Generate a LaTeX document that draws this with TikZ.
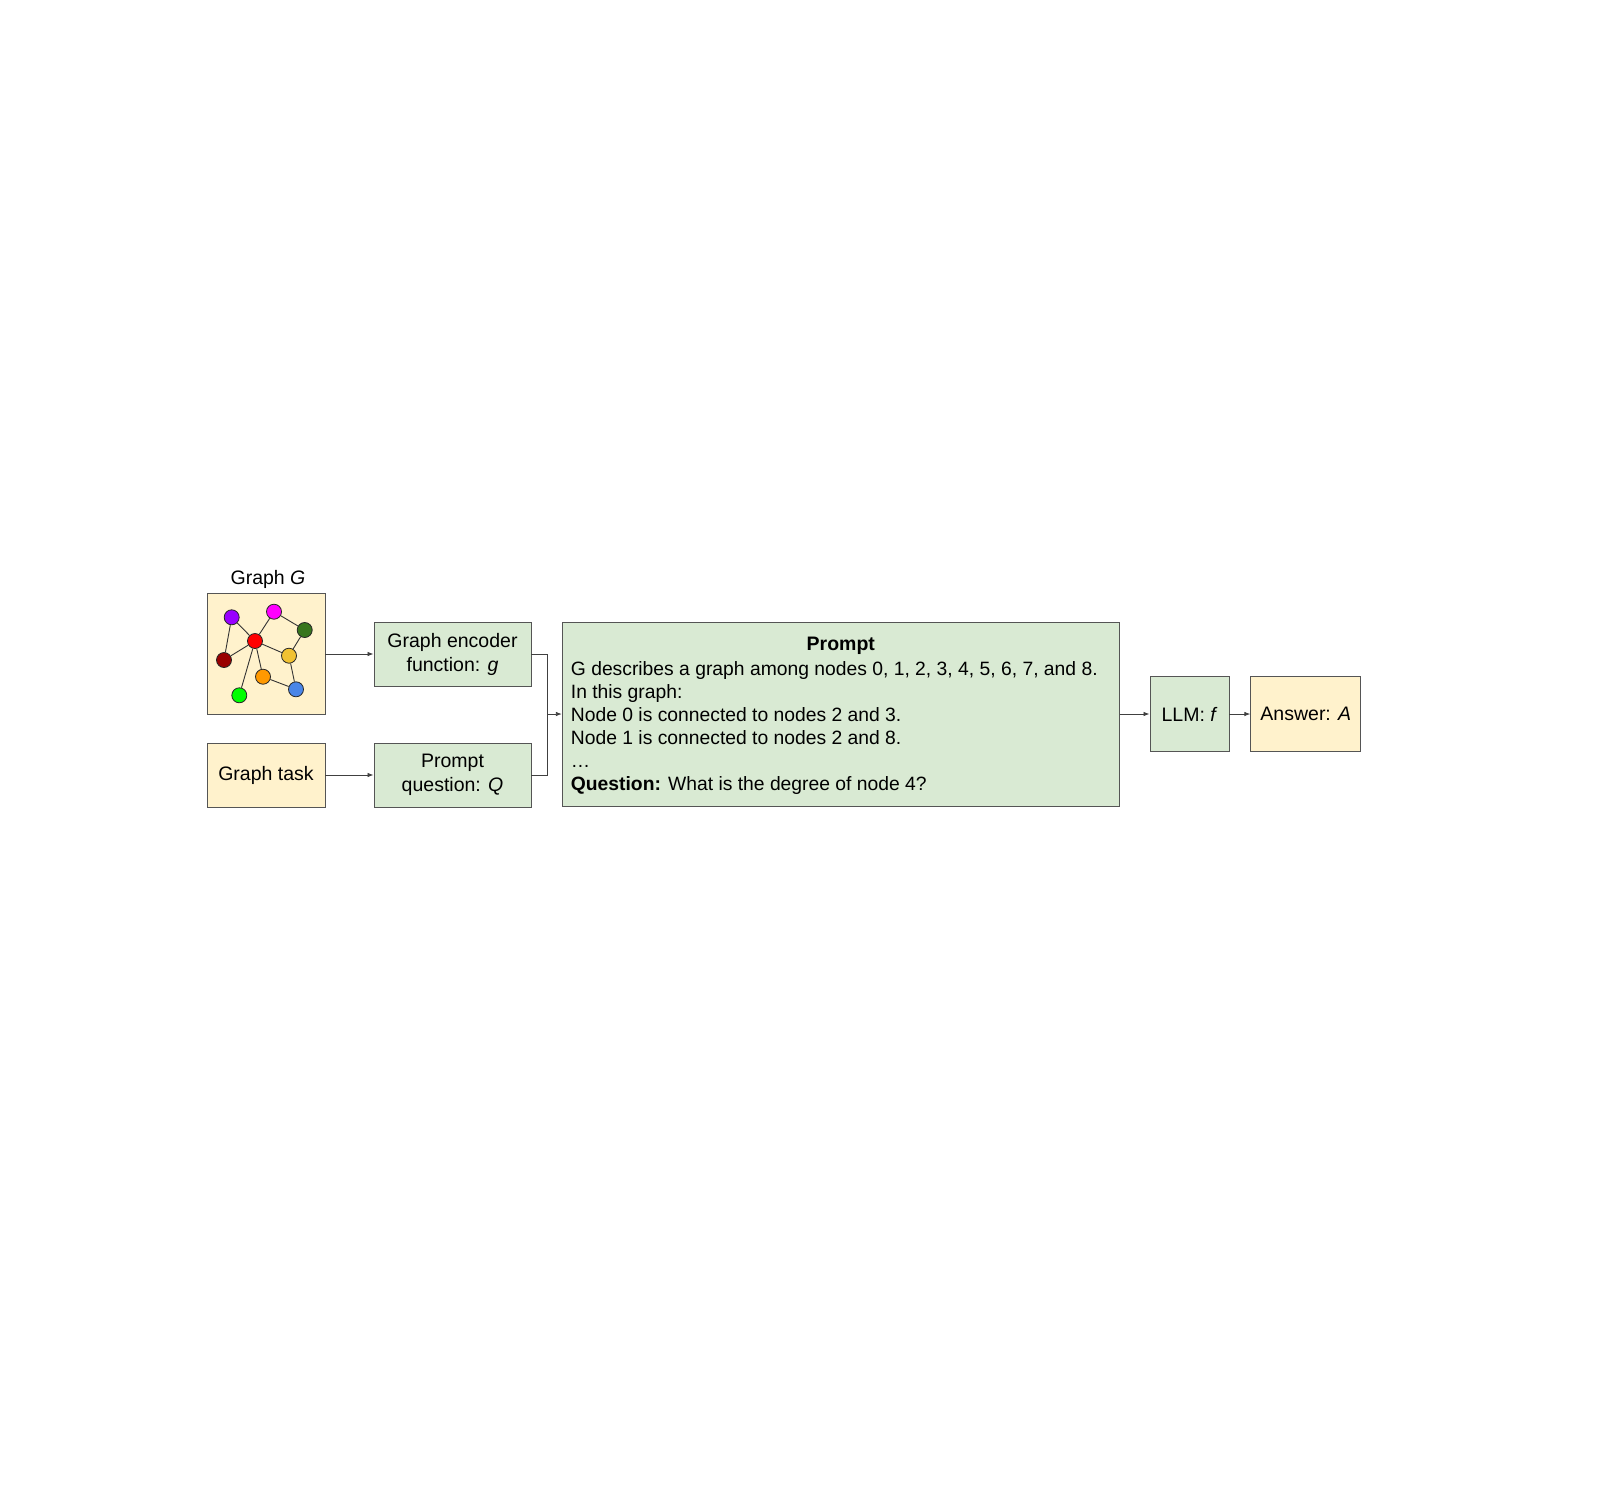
\documentclass[tikz,border=0pt]{standalone}
\usepackage{fontspec}
\setmainfont{Liberation Sans}
\usepackage{xcolor}
\usetikzlibrary{arrows.meta,positioning,calc}

\definecolor{lightyellow}{HTML}{FFF2CC}
\definecolor{lightgreen}{HTML}{D9EAD3}
\definecolor{boxgray}{HTML}{555555}
\definecolor{vpurple}{HTML}{9900FF}
\definecolor{vmagenta}{HTML}{FF00FF}
\definecolor{vdarkgreen}{HTML}{38761D}
\definecolor{vred}{HTML}{FF0000}
\definecolor{vgold}{HTML}{F1C232}
\definecolor{vdarkred}{HTML}{990000}
\definecolor{vorange}{HTML}{FF9900}
\definecolor{vblue}{HTML}{4A86E8}
\definecolor{vgreen}{HTML}{00FF00}

\begin{document}
\begin{tikzpicture}[x=1pt, y=-1pt, font=\fontsize{19.5}{24}\selectfont,
        box/.style={draw=boxgray, line width=0.9pt, inner sep=0pt, align=center},
        yellowbox/.style={box, fill=lightyellow},
        greenbox/.style={box, fill=lightgreen},
        vertex/.style={circle, draw=black!85, line width=0.8pt, minimum size=15pt, inner sep=0pt},
        link/.style={draw=black!80, line width=0.9pt},
        wire/.style={draw=black!75, line width=0.8pt},
        flow/.style={wire, -{Latex[length=6pt,width=4.5pt]}}]
    \useasboundingbox (0,0) rectangle (1600,1502);
    % inputs
    \node [yellowbox, minimum width=118pt, minimum height=121pt] (graph) at (266,654) {};
    \node (graphlabel) at (268,579) {Graph \textit{G}};
    \node [yellowbox, minimum width=118pt, minimum height=64pt] (task) at (266,775) {Graph task};
    % small graph
    \node [vertex, fill=vpurple] (v1) at (231.7,617.3) {};
    \node [vertex, fill=vmagenta] (v2) at (274,611.7) {};
    \node [vertex, fill=vdarkgreen] (v3) at (304.7,630) {};
    \node [vertex, fill=vred] (v4) at (255,641) {};
    \node [vertex, fill=vgold] (v5) at (289,655.7) {};
    \node [vertex, fill=vdarkred] (v6) at (224,660) {};
    \node [vertex, fill=vorange] (v7) at (263,676.7) {};
    \node [vertex, fill=vblue] (v8) at (296,689.3) {};
    \node [vertex, fill=vgreen] (v9) at (239.3,695.3) {};
    \foreach \a/\b in {v1/v4, v1/v6, v2/v4, v2/v3, v3/v5, v4/v5, v4/v6, v4/v7, v4/v9, v5/v8, v7/v8}
        \draw [link] (\a) -- (\b);
    % encoders
    \node [greenbox, minimum width=157pt, minimum height=64pt] (encoder) at (452.5,654) {Graph encoder\\function: \textit{g}};
    \node [greenbox, minimum width=157pt, minimum height=64pt] (question) at (452.5,775) {Prompt\\question: \textit{Q}};
    % prompt
    \node [greenbox, minimum width=557pt, minimum height=184pt] (prompt) at (840.8,714) {};
    \node (prompttitle) at (840.8,646) {\textbf{Prompt}};
    \node [anchor=west, align=left, inner sep=0pt, font=\fontsize{19.3}{23}\selectfont] (prompttext) at (570.7,728) {G describes a graph among nodes 0, 1, 2, 3, 4, 5, 6, 7, and 8.\\
        In this graph:\\
        Node 0 is connected to nodes 2 and 3.\\
        Node 1 is connected to nodes 2 and 8.\\
        \ldots\\
        \textbf{Question:} What is the degree of node 4?};
    % model and answer
    \node [greenbox, minimum width=79pt, minimum height=75pt] (llm) at (1189.5,714) {LLM: \textit{f}};
    \node [yellowbox, minimum width=110pt, minimum height=75pt] (answer) at (1305.8,714) {Answer: \textit{A}};
    % connectors
    \coordinate (merge) at (547,714);
    \draw [flow] (graph) -- (encoder);
    \draw [flow] (task) -- (question);
    \draw [wire] (encoder.east) -| (merge);
    \draw [wire] (question.east) -| (merge);
    \draw [flow] (merge) -- (prompt.west);
    \draw [flow] (prompt) -- (llm);
    \draw [flow] (llm) -- (answer);
\end{tikzpicture}
\end{document}
